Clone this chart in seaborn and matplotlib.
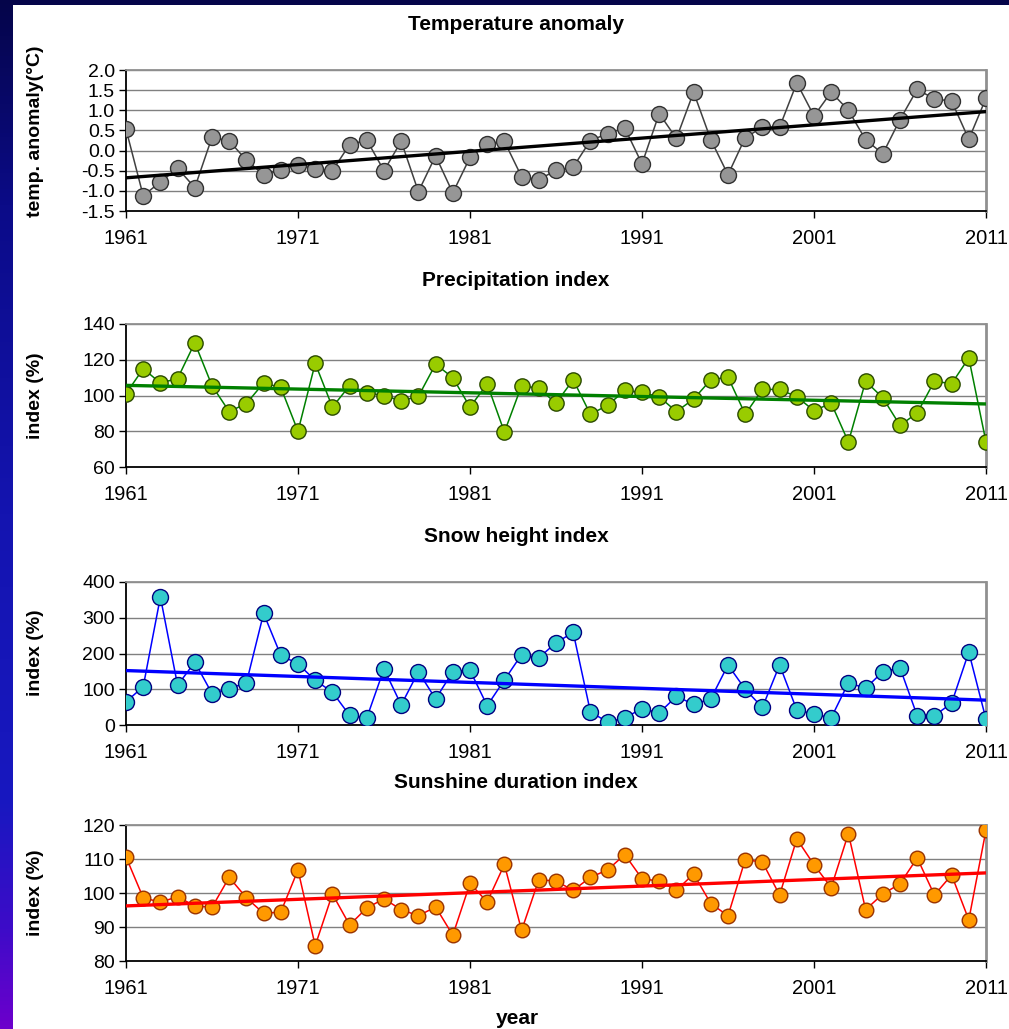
import numpy as np
import matplotlib
matplotlib.use("Agg")
import matplotlib.pyplot as plt
from matplotlib.colors import LinearSegmentedColormap
from matplotlib.patches import Rectangle
import seaborn as sns

sns.set_style("white")
plt.rcParams['font.family'] = ['Liberation Sans', 'DejaVu Sans']
plt.rcParams['text.color'] = 'black'
plt.rcParams['xtick.color'] = 'black'
plt.rcParams['ytick.color'] = 'black'
plt.rcParams['axes.labelcolor'] = 'black'

# Data
years = list(range(1961, 2012))

temp_anomaly = [0.53, -1.12, -0.78, -0.44, -0.92, 0.33, 0.24, -0.24, -0.60, -0.47,
                -0.35, -0.45, -0.50, 0.15, 0.26, -0.50, 0.23, -1.02, -0.13, -1.05,
                -0.17, 0.17, 0.23, -0.65, -0.72, -0.49, -0.41, 0.25, 0.42, 0.56,
                -0.33, 0.92, 0.30, 1.45, 0.27, -0.60, 0.32, 0.58, 0.58, 1.68,
                0.86, 1.45, 1.00, 0.27, -0.08, 0.77, 1.52, 1.28, 1.23, 0.28, 1.30]

precip_index = [101, 115, 107, 109.5, 129.5, 105.5, 91, 95.5, 107, 104.5,
                80, 118, 93.5, 105.5, 101.5, 100, 97, 99.5, 117.5, 110,
                93.5, 106.5, 79.5, 105.5, 104, 95.7, 108.8, 89.5, 94.5, 102.8,
                101.7, 99.3, 91, 98, 108.8, 110.3, 89.5, 103.4, 103.4, 99.3,
                91.5, 95.7, 74, 108, 98.7, 83.3, 90.2, 108, 106.6, 121, 74]

snow_index = [65, 107, 358, 111, 176, 88, 102, 118, 312, 195,
              171, 125, 92, 27, 20, 157, 56, 149, 73, 149,
              153, 54, 126, 197, 188, 230, 259, 37, 8, 20,
              46, 34, 80, 58, 73, 168, 100, 49, 168, 42,
              31, 20, 118, 103, 149, 160, 26, 26, 61, 204, 16]

sun_index = [110.6, 98.6, 97.3, 98.9, 96.2, 95.8, 104.6, 98.6, 94.0, 94.4,
             106.8, 84.5, 99.7, 90.6, 95.6, 98.3, 95.1, 93.3, 95.9, 87.6,
             102.8, 97.4, 108.4, 89.0, 103.9, 103.5, 100.8, 104.6, 106.8, 111.3,
             104.2, 103.5, 100.8, 105.6, 96.9, 93.3, 109.8, 109.1, 99.4, 115.9,
             108.3, 101.6, 117.5, 95.1, 99.7, 102.7, 110.3, 99.4, 105.3, 92.1, 118.5]

titles = ["Temperature anomaly", "Precipitation index", "Snow height index", "Sunshine duration index"]
ylabels = ["temp. anomaly(°C)", "index (%)", "index (%)", "index (%)"]
series = [temp_anomaly, precip_index, snow_index, sun_index]
ylims = [(-1.5, 2.0), (60, 140), (0, 400), (80, 120)]
ysteps = [0.5, 20, 100, 10]
yfmt = ["{:.1f}", "{:.0f}", "{:.0f}", "{:.0f}"]
xticks = list(range(1961, 2012, 10))

# styles: face, edge, connecting line, trend line, marker size
styles = [
    ("#969696", "#303030", "#404040", "#000000", 11.5),
    ("#99cc00", "#2a4a00", "#008000", "#008000", 11),
    ("#33cccc", "#000080", "#0000ff", "#0000ff", 11.5),
    ("#ff9900", "#993300", "#ff0000", "#ff0000", 10.5),
]

W, H = 1009, 1029
fig = plt.figure(figsize=(W / 100, H / 100), dpi=100)

# background: gradient frame + white panel
bg = fig.add_axes([0, 0, 1, 1], zorder=-10)
cmap = LinearSegmentedColormap.from_list(
    "bg", [(0, "#05054a"), (0.2, "#0b0b88"), (0.5, "#1414b0"),
           (0.78, "#1818c0"), (0.9, "#3c0cc8"), (1.0, "#6c00cc")])
grad = np.linspace(0, 1, 256).reshape(-1, 1)
bg.imshow(grad, aspect="auto", cmap=cmap, extent=[0, 1, 0, 1], origin="upper")
bg.add_patch(Rectangle((13 / W, 0), 1 - 13 / W, 1 - 5 / H, facecolor="white",
                       edgecolor="none", transform=bg.transAxes))
bg.set_xlim(0, 1)
bg.set_ylim(0, 1)
bg.axis("off")

# axes pixel boxes: (top, bottom)
boxes = [(70, 211), (324, 467), (582, 725), (825, 961)]
title_y = [24, 281, 537, 783]
ylabel_y = [131, 396, 653, 893]
left_px, right_px = 126, 986

for i in range(4):
    top, bot = boxes[i]
    ax = fig.add_axes([left_px / W, 1 - bot / H, (right_px - left_px) / W, (bot - top) / H])
    ax.set_facecolor("none")
    face, edge, lcol, tcol, ms = styles[i]

    sns.lineplot(x=years, y=series[i], ax=ax, color=lcol, lw=1.1, marker="o",
                 markersize=ms, markerfacecolor=face, markeredgecolor=edge,
                 markeredgewidth=1.0, zorder=3)
    sns.regplot(x=years, y=series[i], ax=ax, scatter=False, ci=None, truncate=True,
                color=tcol, line_kws={"lw": 2.4, "zorder": 4})

    lo, hi = ylims[i]
    yt = np.arange(lo, hi + ysteps[i] / 2, ysteps[i])
    ax.set_ylim(lo, hi)
    ax.set_yticks(yt)
    ax.set_yticklabels([yfmt[i].format(v) for v in yt], fontsize=14)
    ax.set_xlim(1961, 2011)
    ax.set_xticks(xticks)
    ax.set_xticklabels([str(x) for x in xticks], fontsize=14.5)
    ax.set_xlabel("")
    ax.set_ylabel("")

    for v in yt[1:]:
        ax.axhline(v, color="#808080", lw=1.0, zorder=1)

    ax.spines["left"].set_color("black")
    ax.spines["left"].set_linewidth(1.3)
    ax.spines["bottom"].set_color("black")
    ax.spines["bottom"].set_linewidth(1.3)
    ax.spines["right"].set_color("#909090")
    ax.spines["right"].set_linewidth(2.0)
    ax.spines["top"].set_color("#909090")
    ax.spines["top"].set_linewidth(1.3)
    for s in ax.spines.values():
        s.set_visible(True)

    ax.tick_params(axis="x", direction="out", length=5, width=1, color="black", pad=8,
                   bottom=True)
    ax.tick_params(axis="y", direction="out", length=5, width=1, color="black", pad=3,
                   left=True)

    fig.text(516 / W, 1 - title_y[i] / H, titles[i], ha="center", va="center",
             fontsize=15, fontweight="bold")
    fig.text(36 / W, 1 - ylabel_y[i] / H, ylabels[i], ha="center", va="center",
             rotation=90, fontsize=14, fontweight="bold")

fig.text(517 / W, 1 - 1018 / H, "year", ha="center", va="center",
         fontsize=15, fontweight="bold")

fig.savefig("out.png", dpi=100)
